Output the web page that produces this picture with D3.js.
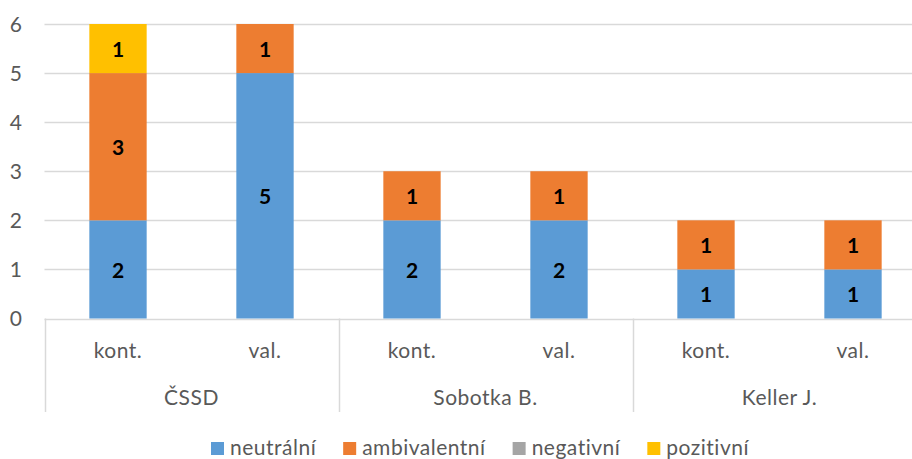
<!DOCTYPE html>
<html>
<head>
<meta charset="utf-8">
<script src="https://cdnjs.cloudflare.com/ajax/libs/d3/7.8.5/d3.min.js"></script>
<style>
  body { margin: 0; background: #fff; }
  svg { display: block; font-family: Lato, "Noto Sans", sans-serif; }
</style>
</head>
<body>
<div id="container"></div>
<script>
// data
var groups = ["ČSSD", "Sobotka B.", "Keller J."];
var subcats = ["kont.", "val."];
var seriesNames = ["neutrální", "ambivalentní", "negativní", "pozitivní"];
var seriesColors = ["#5b9bd5", "#ed7d31", "#a5a5a5", "#ffc000"];
// one value per bar, order: ČSSD kont, ČSSD val, Sobotka kont, Sobotka val, Keller kont, Keller val
var neutralni = [2, 5, 2, 2, 1, 1];
var ambivalentni = [3, 1, 1, 1, 1, 1];
var negativni = [0, 0, 0, 0, 0, 0];
var pozitivni = [1, 0, 0, 0, 0, 0];
var yTicks = [0, 1, 2, 3, 4, 5, 6];

var width = 912, height = 459;
var svg = d3.select("#container").append("svg")
    .attr("width", width).attr("height", height);

var bars = [];
groups.forEach(function(g, gi) {
  subcats.forEach(function(s, si) {
    var i = gi * subcats.length + si;
    bars.push({ key: i, group: g, sub: s,
      "neutrální": neutralni[i], "ambivalentní": ambivalentni[i],
      "negativní": negativni[i], "pozitivní": pozitivni[i] });
  });
});

var x0 = 44.5, x1 = 926.5, yBase = 318.5, yTop = 24;
var x = d3.scaleBand().domain(bars.map(function(d) { return d.key; }))
    .range([x0, x1]).paddingInner(0.61).paddingOuter(0.305);
var y = d3.scaleLinear().domain([0, 6]).range([yBase, yTop]);
var color = d3.scaleOrdinal().domain(seriesNames).range(seriesColors);

var grid = "#d9d9d9", textCol = "#595959";

// gridlines
svg.append("g").selectAll("line").data(yTicks).enter().append("line")
    .attr("x1", x0).attr("x2", x1)
    .attr("y1", function(d) { return Math.round(y(d)) + 0.5; })
    .attr("y2", function(d) { return Math.round(y(d)) + 0.5; })
    .attr("stroke", grid).attr("stroke-width", 1.5);

// y labels
svg.append("g").selectAll("text").data(yTicks).enter().append("text")
    .attr("x", 22).attr("y", function(d) { return y(d) + 7.5; })
    .attr("text-anchor", "end").attr("fill", textCol)
    .style("font-size", "21px").text(function(d) { return d; });

// stacked bars
var stack = d3.stack().keys(seriesNames);
var layers = stack(bars);
var layer = svg.append("g").selectAll("g").data(layers).enter().append("g")
    .attr("fill", function(d) { return color(d.key); });
layer.selectAll("rect").data(function(d) { return d; }).enter().append("rect")
    .attr("x", function(d) { return x(d.data.key); })
    .attr("width", x.bandwidth())
    .attr("y", function(d) { return y(d[1]); })
    .attr("height", function(d) { return y(d[0]) - y(d[1]); });

// data labels
layer.selectAll("text").data(function(d) { return d.filter(function(p) { return p[1] - p[0] > 0; }); })
  .enter().append("text")
    .attr("x", function(d) { return x(d.data.key) + x.bandwidth() / 2; })
    .attr("y", function(d) { return y((d[0] + d[1]) / 2) + 8.5; })
    .attr("text-anchor", "middle").attr("fill", "#000")
    .style("font-size", "21px").style("font-weight", "bold")
    .text(function(d) { return d[1] - d[0]; });

// category axis: subcategory and group labels with dividers
var step = x.step();
var dividers = d3.range(groups.length + 1).map(function(i) { return x0 + i * step * subcats.length; });
svg.append("g").selectAll("line").data(dividers).enter().append("line")
    .attr("x1", function(d) { return Math.round(d) + 0.5; })
    .attr("x2", function(d) { return Math.round(d) + 0.5; })
    .attr("y1", yBase).attr("y2", 412)
    .attr("stroke", grid).attr("stroke-width", 1.5);

svg.append("g").selectAll("text").data(bars).enter().append("text")
    .attr("x", function(d) { return x(d.key) + x.bandwidth() / 2; })
    .attr("y", 358).attr("text-anchor", "middle").attr("fill", textCol)
    .style("font-size", "21px").style("letter-spacing", "0.5px")
    .text(function(d) { return d.sub; });

svg.append("g").selectAll("text").data(groups).enter().append("text")
    .attr("x", function(d, i) { return (dividers[i] + dividers[i + 1]) / 2; })
    .attr("y", 405).attr("text-anchor", "middle").attr("fill", textCol)
    .style("font-size", "21px").style("letter-spacing", "0.5px")
    .text(function(d) { return d; });

// legend
var legend = svg.append("g");
var items = legend.selectAll("g").data(seriesNames).enter().append("g");
items.append("rect").attr("width", 13).attr("height", 13).attr("y", 442)
    .attr("fill", function(d) { return color(d); });
items.append("text").attr("x", 19).attr("y", 455).attr("fill", textCol)
    .style("font-size", "21px").style("letter-spacing", "0.5px")
    .text(function(d) { return d; });
var pos = 0;
items.each(function() {
  var g = d3.select(this);
  var w = 19 + g.select("text").node().getComputedTextLength();
  g.attr("data-x", pos);
  pos += w + 27;
});
var total = pos - 27;
var start = 480 - total / 2;
items.attr("transform", function() { return "translate(" + (start + +this.getAttribute("data-x")) + ",0)"; });
</script>
</body>
</html>
